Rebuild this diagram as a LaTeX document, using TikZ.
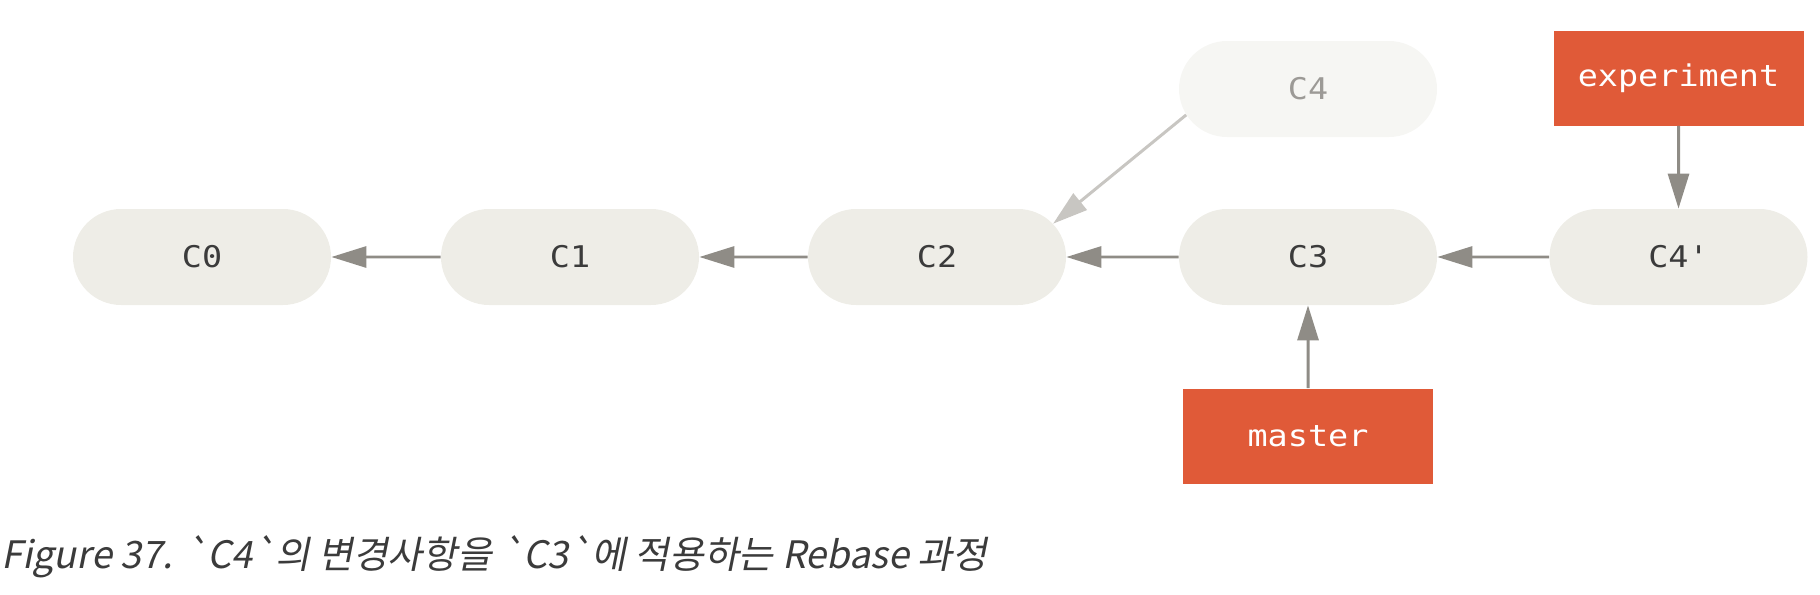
\documentclass[tikz,border=0pt]{standalone}
\usepackage{fontspec}
\usepackage{xcolor}
\usepackage{tikz}
\usetikzlibrary{arrows.meta,positioning,shapes.misc}

\newfontfamily\codefont{DejaVu Sans Mono}[FakeStretch=1.12]
\newfontfamily\krfont{Noto Sans CJK KR}[FakeSlant=0.2]
\definecolor{commitfill}{HTML}{EEEDE7}
\definecolor{oldfill}{HTML}{F6F6F3}
\definecolor{oldtext}{HTML}{9C9A96}
\definecolor{linkgray}{HTML}{8F8C86}
\definecolor{oldgray}{HTML}{C8C6C2}
\definecolor{branchred}{HTML}{E05A38}
\definecolor{inkgray}{HTML}{3B3B3B}

\begin{document}
\begin{tikzpicture}[font=\codefont\fontsize{17}{20}\selectfont,
  commit/.style={rounded rectangle, fill=commitfill, text=inkgray,
    minimum width=5.16cm, minimum height=1.92cm, inner sep=0pt},
  branch/.style={rectangle, fill=branchred, text=white,
    minimum width=5.0cm, minimum height=1.9cm, inner sep=0pt},
  parent/.style={linkgray, line width=1.7pt, -{Triangle[length=7mm, width=4.2mm]}}]
\useasboundingbox (0,0) rectangle (36.4,11.88);
% commits
\node[commit] (C0) at (4.04,6.74) {C0};
\node[commit] (C1) at (11.4,6.74) {C1};
\node[commit] (C2) at (18.74,6.74) {C2};
\node[commit] (C3) at (26.16,6.74) {C3};
\node[commit] (C4p) at (33.57,6.74) {C4'};
\node[commit, fill=oldfill, text=oldtext] (C4) at (26.16,10.1) {C4};
% branches
\node[branch] (experiment) at (33.57,10.32) {experiment};
\node[branch] (master) at (26.16,3.16) {master};
% parent links
\draw[parent] (C1) -- (C0);
\draw[parent] (C2) -- (C1);
\draw[parent] (C3) -- (C2);
\draw[parent] (C4p) -- (C3);
\draw[parent, oldgray] (C4.192) -- (C2.16);
\draw[parent] (experiment) -- (C4p);
\draw[parent] (master) -- (C3);
% caption
\node[anchor=base west, inner sep=0pt, text=inkgray,
  font=\krfont\fontsize{21.5}{25}\selectfont] (caption) at (0.02,0.52)
  {Figure 37. \textasciigrave C4\textasciigrave 의 변경사항을 \textasciigrave C3\textasciigrave 에 적용하는 Rebase 과정};
\end{tikzpicture}
\end{document}
